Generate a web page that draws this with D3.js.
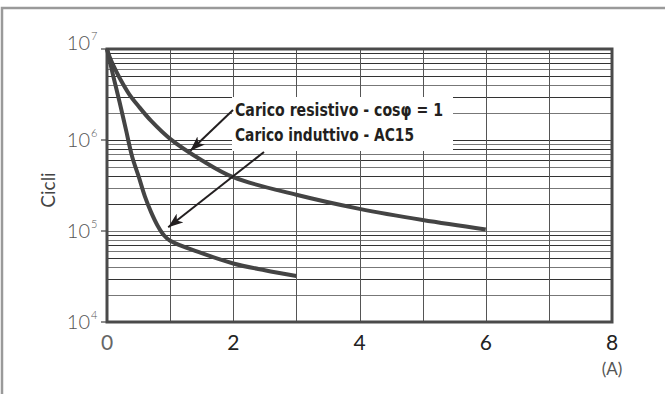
<!DOCTYPE html>
<html>
<head>
<meta charset="utf-8">
<style>
  body { margin: 0; background: #fff; }
  svg text { font-family: "Lato", "Open Sans", sans-serif; }
</style>
<script src="https://d3js.org/d3.v7.min.js"></script>
</head>
<body>
<svg width="665" height="394"></svg>
<script>
// data: current (A) vs cycles
const resistivo = [[0, 1e7], [0.05, 7.9e6], [0.1, 6.6e6], [0.2, 4.8e6], [0.35, 3.2e6], [0.5, 2.35e6], [0.7, 1.62e6],
  [1, 1.03e6], [1.5, 6e5], [2, 3.9e5], [3, 2.5e5], [4, 1.75e5], [5, 1.32e5], [6, 1.04e5]];
const induttivo = [[0, 1e7], [0.1, 5e6], [0.2, 2.6e6], [0.3, 1.3e6], [0.4, 6.5e5], [0.5, 4e5],
  [0.6, 2.4e5], [0.7, 1.6e5], [0.8, 1.15e5], [0.9, 9e4], [1, 7.8e4], [1.5, 5.7e4], [2, 4.4e4],
  [2.5, 3.7e4], [3, 3.2e4]];
const xTicks = [0, 2, 4, 6, 8];
const yDecades = [4, 5, 6, 7];
const labels = ["Carico resistivo - cos\u03c6 = 1", "Carico induttivo - AC15"];

const svg = d3.select("svg");
const pL = 107, pR = 612, pT = 49, pB = 322;
const x = d3.scaleLinear().domain([0, 8]).range([pL, pR]);
const y = d3.scaleLog().domain([1e4, 1e7]).range([pB, pT]);

// outer frame
svg.append("path").attr("d", "M2,394 L2,8 L665,8")
  .attr("fill", "none").attr("stroke", "#9a9a9a").attr("stroke-width", 2.5);

// horizontal grid (minor lines of each decade)
const minor = [];
for (let d = 4; d < 7; d++) for (let m = 1; m <= 9; m++) minor.push(m * Math.pow(10, d));
svg.append("g").selectAll("line").data(minor).join("line")
  .attr("x1", pL).attr("x2", pR)
  .attr("y1", d => Math.round(y(d)) + 0.5).attr("y2", d => Math.round(y(d)) + 0.5)
  .attr("stroke", (d, i) => i % 2 ? "#777" : "#333").attr("stroke-width", 1.2);

// vertical grid
svg.append("g").selectAll("line").data(d3.range(1, 8)).join("line")
  .attr("x1", d => Math.round(x(d)) + 0.5).attr("x2", d => Math.round(x(d)) + 0.5)
  .attr("y1", pT).attr("y2", pB)
  .attr("stroke", "#555").attr("stroke-width", 1);

// decade ticks on the left
svg.append("g").selectAll("line").data(yDecades).join("line")
  .attr("x1", pL - 6).attr("x2", pL)
  .attr("y1", d => y(Math.pow(10, d))).attr("y2", d => y(Math.pow(10, d)))
  .attr("stroke", "#444").attr("stroke-width", 1.2);

// frame of the plot
svg.append("rect").attr("x", pL).attr("y", pT)
  .attr("width", pR - pL).attr("height", pB - pT)
  .attr("fill", "none").attr("stroke", "#4a4a4a").attr("stroke-width", 3);

// curves
const line = d3.line().x(d => x(d[0])).y(d => y(d[1])).curve(d3.curveCatmullRom.alpha(0.5));
[resistivo, induttivo].forEach(s => {
  svg.append("path").datum(s).attr("d", line)
    .attr("fill", "none").attr("stroke", "#444").attr("stroke-width", 4)
    .attr("stroke-linejoin", "round");
});

// annotation box
svg.append("rect").attr("x", 232).attr("y", 97).attr("width", 221).attr("height", 54).attr("fill", "#fff");
svg.selectAll("text.lab").data(labels).join("text").attr("class", "lab")
  .attr("x", 235).attr("y", (d, i) => 116 + i * 25)
  .attr("textLength", (d, i) => i ? 179 : 208).attr("lengthAdjust", "spacingAndGlyphs")
  .style("font-family", "'Liberation Sans Narrow', 'DejaVu Sans Condensed', sans-serif")
  .style("font-weight", "bold").style("font-size", "18px").attr("fill", "#231f20")
  .text(d => d);

// arrows
svg.append("defs").append("marker").attr("id", "ah")
  .attr("viewBox", "0 0 15 11").attr("refX", 15).attr("refY", 5.5)
  .attr("markerWidth", 15).attr("markerHeight", 11).attr("markerUnits", "userSpaceOnUse")
  .attr("orient", "auto")
  .append("path").attr("d", "M0,0 L15,5.5 L0,11 L4,5.5 Z").attr("fill", "#231f20");
const arrows = [[[233, 110], [x(1.32), y(7.6e5)]], [[264, 152], [x(0.97), y(1.1e5)]]];
svg.selectAll("line.arr").data(arrows).join("line").attr("class", "arr")
  .attr("x1", d => d[0][0]).attr("y1", d => d[0][1])
  .attr("x2", d => d[1][0]).attr("y2", d => d[1][1])
  .attr("stroke", "#231f20").attr("stroke-width", 2).attr("marker-end", "url(#ah)");

// x tick labels
svg.selectAll("text.xt").data(xTicks).join("text").attr("class", "xt")
  .attr("x", d => x(d)).attr("y", 350).attr("text-anchor", "middle")
  .style("font-size", "21px").attr("fill", (d, i) => i ? "#222" : "#666").text(d => d);
svg.append("text").attr("x", x(8)).attr("y", 375).attr("text-anchor", "middle")
  .style("font-size", "17px").attr("fill", "#555").text("(A)");

// y tick labels 10^n
const yl = svg.selectAll("g.yl").data(yDecades).join("g").attr("class", "yl")
  .attr("transform", d => `translate(90,${d === 7 ? 50 : y(Math.pow(10, d)) + 7})`);
yl.append("text").attr("text-anchor", "end").style("font-size", "20px").style("font-weight", 300)
  .attr("fill", "#555").text("10");
yl.append("text").attr("x", 1).attr("y", -10).style("font-size", "11px").style("font-weight", 300)
  .attr("fill", "#555").text(d => d);

// y title
svg.append("text").attr("transform", "translate(55,190) rotate(-90)").attr("text-anchor", "middle")
  .style("font-size", "19px").attr("fill", "#444").text("Cicli");
</script>
</body>
</html>
